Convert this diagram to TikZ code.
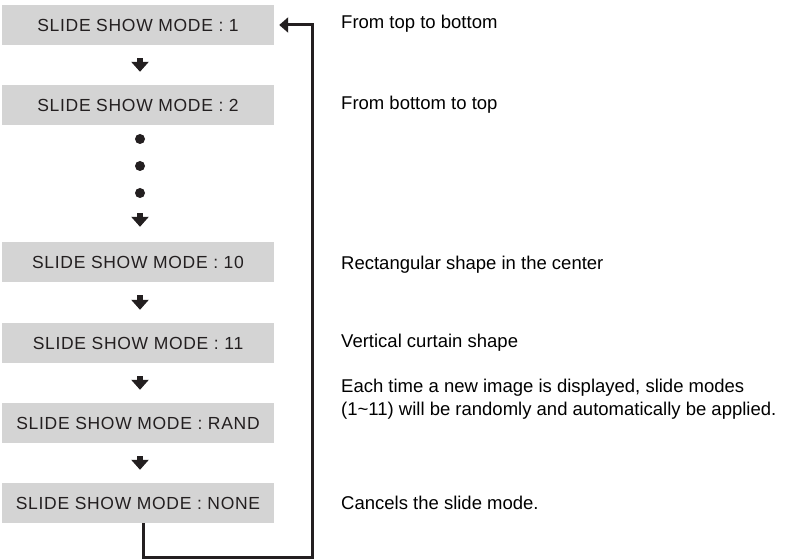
\documentclass[tikz,border=0pt]{standalone}
\usepackage{fontspec}
\setmainfont{Liberation Sans}
\newfontfamily\modefont[LetterSpace=4]{Liberation Sans}
\usetikzlibrary{arrows.meta, positioning, calc}
\definecolor{mgray}{HTML}{D4D4D4}
\definecolor{inkdark}{HTML}{231F20}
\tikzset{
  modebox/.style={
    fill=mgray, draw=none, minimum width=272bp, minimum height=40bp,
    inner sep=0pt, text=inkdark, font=\modefont\fontsize{17.5bp}{20bp}\selectfont
  },
  dotnode/.style={circle, fill=inkdark, minimum size=10bp, inner sep=0pt},
  downarr/.style={-{Triangle[width=17bp,length=10bp]}, line width=6.5bp, draw=inkdark,
    shorten <=#1, shorten >=#1},
  downarr/.default=13bp,
  backline/.style={-{Triangle[width=15bp,length=9bp]}, line width=3bp, draw=inkdark},
  lab/.style={anchor=base west, inner sep=0pt, text=black,
    font=\fontsize{18.5bp}{23bp}\selectfont, align=left}
}
\begin{document}
\begin{tikzpicture}[x=1bp,y=-1bp]
  \useasboundingbox (0,0) rectangle (786,560);
  % mode boxes
  \node[modebox] (m1) at (138,25) {SLIDE SHOW MODE : 1};
  \node[modebox] (m2) at (138,105) {SLIDE SHOW MODE : 2};
  \node[dotnode] (d1) at (140,139) {};
  \node[dotnode] (d2) at (140,166) {};
  \node[dotnode] (d3) at (140,193) {};
  \node[modebox] (m10) at (138,262) {SLIDE SHOW MODE : 10};
  \node[modebox] (m11) at (138,343) {SLIDE SHOW MODE : 11};
  \node[modebox] (mrand) at (138,423) {SLIDE SHOW MODE : RAND};
  \node[modebox] (mnone) at (138,503) {SLIDE SHOW MODE : NONE};
  % step arrows
  \draw[downarr] ([xshift=2bp]m1.south) -- ([xshift=2bp]m2.north);
  \draw[downarr=15bp] (d3.south) -- (d3.south |- m10.north);
  \draw[downarr] ([xshift=2bp]m10.south) -- ([xshift=2bp]m11.north);
  \draw[downarr] ([xshift=2bp]m11.south) -- ([xshift=2bp]mrand.north);
  \draw[downarr] ([xshift=2bp]mrand.south) -- ([xshift=2bp]mnone.north);
  % loop back
  \coordinate (loopc) at (312,557);
  \draw[backline, shorten >=5bp] ([xshift=5bp]mnone.south) |- (loopc) |- (m1.east);
  % descriptions
  \node[lab] (t1) at (341,29) {From top to bottom};
  \node[lab] (t2) at (341,110) {From bottom to top};
  \node[lab] (t10) at (341,270) {Rectangular shape in the center};
  \node[lab] (t11) at (341,347) {Vertical curtain shape};
  \node[lab] (trand) at (341,415) {Each time a new image is displayed, slide modes\\(1\textasciitilde 11) will be randomly and automatically be applied.};
  \node[lab] (tnone) at (341,509) {Cancels the slide mode.};
\end{tikzpicture}
\end{document}
